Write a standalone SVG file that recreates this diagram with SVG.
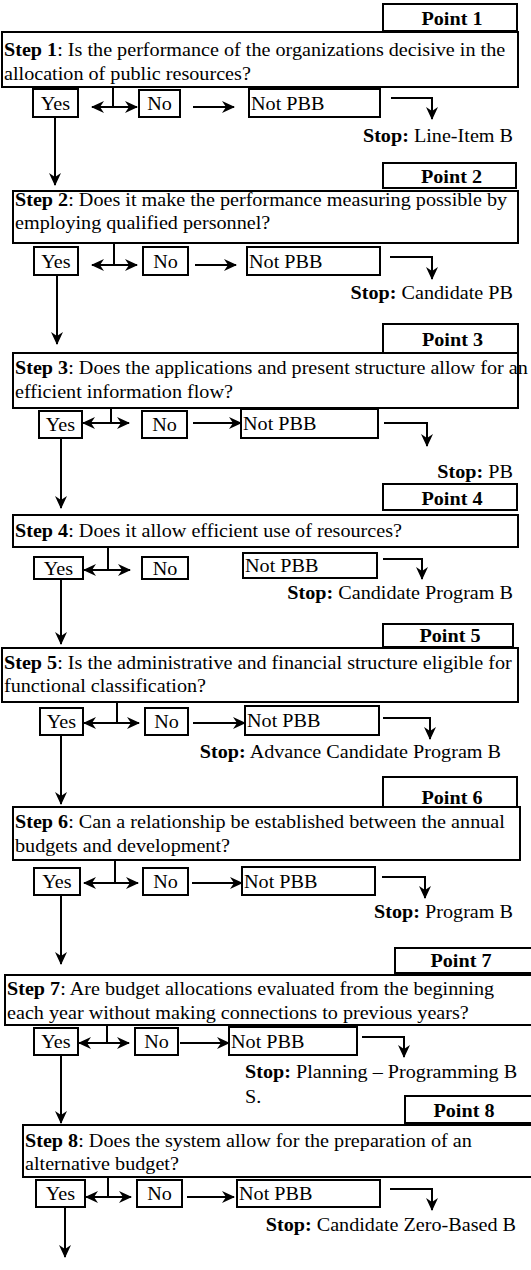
<svg xmlns="http://www.w3.org/2000/svg" width="531" height="1270" viewBox="0 0 531 1270">
<defs>
<style>
.bx{fill:#fff;stroke:#000;stroke-width:2}
.ln{fill:none;stroke:#000;stroke-width:2}
text{font-family:'Liberation Serif','Times New Roman','DejaVu Serif',serif;font-size:18px;fill:#000}
.b{font-weight:bold}
.c{text-anchor:middle}
.e{text-anchor:end}
.a{marker-end:url(#ah)}
.d{marker-start:url(#ah);marker-end:url(#ah)}
</style>
<marker id="ah" viewBox="0 0 13 13" markerUnits="userSpaceOnUse" markerWidth="13" markerHeight="13" refX="12" refY="6.5" orient="auto-start-reverse">
<path d="M0,0.5 L13,6.5 L0,12.5 L4,6.5 Z" fill="#000"/>
</marker>
</defs>
<rect width="531" height="1270" fill="#fff"/>

<g id="connectors">
<line class="ln" x1="113" y1="87" x2="113" y2="107"/>
<line class="ln d" x1="92" y1="107" x2="137" y2="107"/>
<line class="ln a" x1="193" y1="107" x2="234" y2="107"/>
<path class="ln a" d="M391,98 H432 V119"/>
<line class="ln a" x1="55" y1="117" x2="55" y2="185"/>
<line class="ln" x1="114" y1="243" x2="114" y2="265"/>
<line class="ln d" x1="92" y1="265" x2="137" y2="265"/>
<line class="ln a" x1="195" y1="265" x2="236" y2="265"/>
<path class="ln a" d="M390,257 H432 V279"/>
<line class="ln a" x1="57" y1="275" x2="57" y2="344"/>
<line class="ln" x1="111" y1="408" x2="111" y2="423"/>
<line class="ln d" x1="83" y1="423" x2="129" y2="423"/>
<line class="ln a" x1="193" y1="423" x2="241" y2="423"/>
<path class="ln a" d="M384,423 H427 V446"/>
<line class="ln a" x1="61" y1="438" x2="61" y2="508"/>
<line class="ln" x1="108" y1="547" x2="108" y2="570"/>
<line class="ln d" x1="84" y1="570" x2="130" y2="570"/>
<path class="ln a" d="M383,559 H422 V579"/>
<line class="ln a" x1="61" y1="579" x2="61" y2="644"/>
<line class="ln" x1="117" y1="702" x2="117" y2="723"/>
<line class="ln d" x1="84" y1="723" x2="139" y2="723"/>
<line class="ln a" x1="193" y1="723" x2="245" y2="723"/>
<path class="ln a" d="M383,718 H430 V739"/>
<line class="ln a" x1="61" y1="735" x2="61" y2="804"/>
<line class="ln" x1="115" y1="860" x2="115" y2="883"/>
<line class="ln d" x1="84" y1="883" x2="138" y2="883"/>
<line class="ln a" x1="192" y1="883" x2="242" y2="883"/>
<path class="ln a" d="M382,877 H425 V898"/>
<line class="ln a" x1="61" y1="895" x2="61" y2="964"/>
<line class="ln" x1="107" y1="1025" x2="107" y2="1043"/>
<line class="ln d" x1="79" y1="1043" x2="129" y2="1043"/>
<line class="ln a" x1="180" y1="1043" x2="229" y2="1043"/>
<path class="ln a" d="M362,1037 H404 V1057"/>
<line class="ln a" x1="61" y1="1055" x2="61" y2="1123"/>
<line class="ln" x1="108" y1="1177" x2="108" y2="1197"/>
<line class="ln d" x1="86" y1="1197" x2="131" y2="1197"/>
<line class="ln a" x1="187" y1="1197" x2="234" y2="1197"/>
<path class="ln a" d="M390,1189 H432 V1210"/>
<line class="ln a" x1="65" y1="1207" x2="65" y2="1257"/>
</g>

<g id="point1"><rect class="bx" x="383" y="4" width="134" height="27"/><text class="b c" transform="translate(452,25) scale(1.12,1)">Point 1</text></g>
<g id="step1"><rect class="bx" x="2" y="32" width="516" height="55"/>
<text transform="translate(4,56) scale(1.12,1)"><tspan class="b">Step 1</tspan>: Is the performance of the organizations decisive in the</text>
<text transform="translate(4,80) scale(1.12,1)">allocation of public resources?</text></g>
<g id="yes1"><rect class="bx" x="33" y="89" width="45" height="28"/><text class="c" transform="translate(55.5,110) scale(1.12,1)">Yes</text></g>
<g id="no1"><rect class="bx" x="139" y="90" width="41" height="27"/><text class="c" transform="translate(159.5,110) scale(1.12,1)">No</text></g>
<g id="notpbb1"><rect class="bx" x="249" y="89" width="131" height="28"/><text transform="translate(251,110) scale(1.12,1)">Not PBB</text></g>
<g id="stop1"><text class="e" transform="translate(513,142) scale(1.12,1)"><tspan class="b">Stop:</tspan> Line-Item B</text></g>

<g id="point2"><rect class="bx" x="383" y="163" width="133" height="25"/><text class="b c" transform="translate(451.5,183) scale(1.12,1)">Point 2</text></g>
<g id="step2"><rect class="bx" x="13" y="191" width="505" height="52"/>
<text transform="translate(15,206) scale(1.12,1)"><tspan class="b">Step 2</tspan>: Does it make the performance measuring possible by</text>
<text transform="translate(15,229) scale(1.12,1)">employing qualified personnel?</text></g>
<g id="yes2"><rect class="bx" x="34" y="247" width="44" height="28"/><text class="c" transform="translate(56,268) scale(1.12,1)">Yes</text></g>
<g id="no2"><rect class="bx" x="143" y="247" width="45" height="28"/><text class="c" transform="translate(165.5,268) scale(1.12,1)">No</text></g>
<g id="notpbb2"><rect class="bx" x="247" y="247" width="133" height="28"/><text transform="translate(249,268) scale(1.12,1)">Not PBB</text></g>
<g id="stop2"><text class="e" transform="translate(513,299) scale(1.12,1)"><tspan class="b">Stop:</tspan> Candidate PB</text></g>

<g id="point3"><rect class="bx" x="383" y="324" width="135" height="29"/><text class="b c" transform="translate(452.5,346) scale(1.12,1)">Point 3</text></g>
<g id="step3"><rect class="bx" x="13" y="353" width="505" height="55"/>
<text transform="translate(15,374) scale(1.12,1)"><tspan class="b">Step 3</tspan>: Does the applications and present structure allow for an</text>
<text transform="translate(15,398) scale(1.12,1)">efficient information flow?</text></g>
<g id="yes3"><rect class="bx" x="39" y="411" width="43" height="27"/><text class="c" transform="translate(60.5,431) scale(1.12,1)">Yes</text></g>
<g id="no3"><rect class="bx" x="142" y="411" width="45" height="27"/><text class="c" transform="translate(164.5,431) scale(1.12,1)">No</text></g>
<g id="notpbb3"><rect class="bx" x="241" y="409" width="137" height="29"/><text transform="translate(243,430) scale(1.12,1)">Not PBB</text></g>
<g id="stop3"><text class="e" transform="translate(513,478) scale(1.12,1)"><tspan class="b">Stop:</tspan> PB</text></g>

<g id="point4"><rect class="bx" x="383" y="484" width="134" height="26"/><text class="b c" transform="translate(452,505) scale(1.12,1)">Point 4</text></g>
<g id="step4"><rect class="bx" x="13" y="515" width="505" height="32"/>
<text transform="translate(15,537) scale(1.12,1)"><tspan class="b">Step 4</tspan>: Does it allow efficient use of resources?</text></g>
<g id="yes4"><rect class="bx" x="34" y="557" width="49" height="22"/><text class="c" transform="translate(58.5,575) scale(1.12,1)">Yes</text></g>
<g id="no4"><rect class="bx" x="142" y="557" width="46" height="22"/><text class="c" transform="translate(165,575) scale(1.12,1)">No</text></g>
<g id="notpbb4"><rect class="bx" x="243" y="553" width="134" height="25"/><text transform="translate(245,572) scale(1.12,1)">Not PBB</text></g>
<g id="stop4"><text class="e" transform="translate(513,599) scale(1.12,1)"><tspan class="b">Stop:</tspan> Candidate Program B</text></g>

<g id="point5"><rect class="bx" x="383" y="624" width="130" height="23"/><text class="b c" transform="translate(450,642) scale(1.12,1)">Point 5</text></g>
<g id="step5"><rect class="bx" x="2" y="648" width="516" height="54"/>
<text transform="translate(4,669) scale(1.12,1)"><tspan class="b">Step 5</tspan>: Is the administrative and financial structure eligible for</text>
<text transform="translate(4,692) scale(1.12,1)">functional classification?</text></g>
<g id="yes5"><rect class="bx" x="40" y="708" width="43" height="27"/><text class="c" transform="translate(61.5,728) scale(1.12,1)">Yes</text></g>
<g id="no5"><rect class="bx" x="145" y="708" width="43" height="27"/><text class="c" transform="translate(166.5,728) scale(1.12,1)">No</text></g>
<g id="notpbb5"><rect class="bx" x="245" y="706" width="134" height="29"/><text transform="translate(247,727) scale(1.12,1)">Not PBB</text></g>
<g id="stop5"><text class="e" transform="translate(501,758) scale(1.12,1)"><tspan class="b">Stop:</tspan> Advance Candidate Program B</text></g>

<g id="point6"><rect class="bx" x="383" y="777" width="134" height="30"/><text class="b c" transform="translate(452,804) scale(1.12,1)">Point 6</text></g>
<g id="step6"><rect class="bx" x="13" y="807" width="507" height="53"/>
<text transform="translate(15,828) scale(1.12,1)"><tspan class="b">Step 6</tspan>: Can a relationship be established between the annual</text>
<text transform="translate(15,852) scale(1.12,1)">budgets and development?</text></g>
<g id="yes6"><rect class="bx" x="34" y="868" width="46" height="27"/><text class="c" transform="translate(57,888) scale(1.12,1)">Yes</text></g>
<g id="no6"><rect class="bx" x="143" y="868" width="45" height="27"/><text class="c" transform="translate(165.5,888) scale(1.12,1)">No</text></g>
<g id="notpbb6"><rect class="bx" x="242" y="867" width="133" height="28"/><text transform="translate(244,888) scale(1.12,1)">Not PBB</text></g>
<g id="stop6"><text class="e" transform="translate(513,918) scale(1.12,1)"><tspan class="b">Stop:</tspan> Program B</text></g>

<g id="point7"><rect class="bx" x="395" y="948" width="140" height="25"/><text class="b c" transform="translate(461,967) scale(1.12,1)">Point 7</text></g>
<g id="step7"><rect class="bx" x="5" y="975" width="530" height="50"/>
<text transform="translate(7,995) scale(1.12,1)"><tspan class="b">Step 7</tspan>: Are budget allocations evaluated from the beginning</text>
<text transform="translate(7,1019) scale(1.12,1)">each year without making connections to previous years?</text></g>
<g id="yes7"><rect class="bx" x="34" y="1028" width="44" height="27"/><text class="c" transform="translate(56,1048) scale(1.12,1)">Yes</text></g>
<g id="no7"><rect class="bx" x="135" y="1028" width="43" height="27"/><text class="c" transform="translate(156.5,1048) scale(1.12,1)">No</text></g>
<g id="notpbb7"><rect class="bx" x="229" y="1027" width="128" height="28"/><text transform="translate(231,1048) scale(1.12,1)">Not PBB</text></g>
<g id="stop7"><text transform="translate(245,1078) scale(1.12,1)"><tspan class="b">Stop:</tspan> Planning – Programming B</text>
<text transform="translate(245,1103) scale(1.12,1)">S.</text></g>

<g id="point8"><rect class="bx" x="405" y="1096" width="130" height="27"/><text class="b c" transform="translate(464,1117) scale(1.12,1)">Point 8</text></g>
<g id="step8"><rect class="bx" x="23" y="1125" width="512" height="52"/>
<text transform="translate(25,1147) scale(1.12,1)"><tspan class="b">Step 8</tspan>: Does the system allow for the preparation of an</text>
<text transform="translate(25,1170) scale(1.12,1)">alternative budget?</text></g>
<g id="yes8"><rect class="bx" x="36" y="1180" width="49" height="27"/><text class="c" transform="translate(60.5,1200) scale(1.12,1)">Yes</text></g>
<g id="no8"><rect class="bx" x="137" y="1180" width="45" height="27"/><text class="c" transform="translate(159.5,1200) scale(1.12,1)">No</text></g>
<g id="notpbb8"><rect class="bx" x="237" y="1180" width="143" height="27"/><text transform="translate(239,1200) scale(1.12,1)">Not PBB</text></g>
<g id="stop8"><text class="e" transform="translate(516,1231) scale(1.12,1)"><tspan class="b">Stop:</tspan> Candidate Zero-Based B</text></g>
</svg>
